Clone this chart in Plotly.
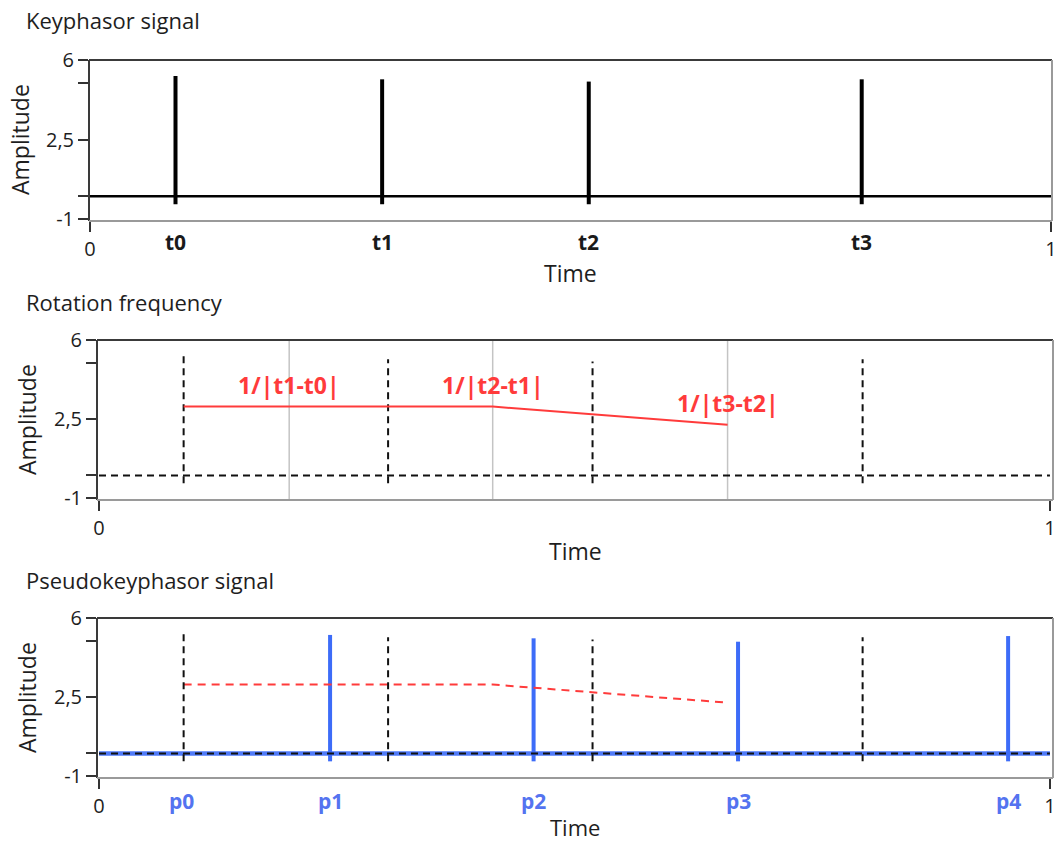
import plotly.graph_objects as go

# Keyphasor pulses (time in normalised units, amplitude)
key_times = [0.089, 0.304, 0.519, 0.803]
key_peaks = [5.3, 5.15, 5.05, 5.15]
key_trough = -0.35
key_labels = ["t0", "t1", "t2", "t3"]

# Rotation frequency estimates placed between consecutive pulses
freq_times = [0.200, 0.414, 0.661]
freq_values = [3.05, 3.05, 2.25]
freq_labels = ["1/|t1-t0|", "1/|t2-t1|", "1/|t3-t2|"]

# Pseudo keyphasor pulses
pseudo_times = [0.087, 0.243, 0.457, 0.672, 0.956]
pseudo_labels = ["p0", "p1", "p2", "p3", "p4"]
pseudo_spike_times = [0.243, 0.457, 0.672, 0.956]
pseudo_peaks = [5.25, 5.1, 4.95, 5.2]

y_tickvals = [-1, 0, 2.5, 5, 6]
y_ticktext = ["-1", "", "2,5", "", "6"]
x_tickvals = [0, 1]
x_ticktext = ["0", "1"]

W, H = 1058, 843
FONT = "Open Sans"
TXT = "#1e1e1e"
RED = "#ff3b3b"
BLUE = "#3d6cf8"
LBLUE = "#5473f0"


def px(x):
    return x / W


def py(y):
    return 1 - y / H


def baseline():
    return [0.0, 1.0], [0.0, 0.0]


def pulses(times, peaks, trough):
    """Vertical pulse segments, kept separate so dash patterns stay clean."""
    xs, ys = [], []
    for t, p in zip(times, peaks):
        xs += [t, t, None]
        ys += [trough, p, None]
    return xs, ys


fig = go.Figure()

bx, by = baseline()
kx, ky = pulses(key_times, key_peaks, key_trough)
sx, sy = pulses(pseudo_spike_times, pseudo_peaks, key_trough)
fx = [key_times[0]] + freq_times
fy = [freq_values[0]] + freq_values

BLACK_DASH = dict(color="#111111", width=2, dash="7px,5px")

# Panel 1: keyphasor signal
fig.add_trace(go.Scatter(x=bx, y=by, mode="lines", xaxis="x", yaxis="y",
                         line=dict(color="#000000", width=2.5), showlegend=False))
fig.add_trace(go.Scatter(x=kx, y=ky, mode="lines", xaxis="x", yaxis="y",
                         line=dict(color="#000000", width=4), showlegend=False))

# Panel 2: keyphasor (dashed) + rotation frequency
fig.add_trace(go.Scatter(x=bx, y=by, mode="lines", xaxis="x2", yaxis="y2",
                         line=BLACK_DASH, showlegend=False))
fig.add_trace(go.Scatter(x=kx, y=ky, mode="lines", xaxis="x2", yaxis="y2",
                         line=BLACK_DASH, showlegend=False))
fig.add_trace(go.Scatter(x=fx, y=fy, mode="lines", xaxis="x2", yaxis="y2",
                         line=dict(color=RED, width=2), showlegend=False))

# Panel 3: pseudo keyphasor + overlays
fig.add_trace(go.Scatter(x=bx, y=by, mode="lines", xaxis="x3", yaxis="y3",
                         line=dict(color=BLUE, width=4.5), opacity=0.9,
                         showlegend=False))
fig.add_trace(go.Scatter(x=sx, y=sy, mode="lines", xaxis="x3", yaxis="y3",
                         line=dict(color=BLUE, width=4), showlegend=False))
fig.add_trace(go.Scatter(x=fx, y=fy, mode="lines", xaxis="x3", yaxis="y3",
                         line=dict(color=RED, width=2, dash="8px,6px"),
                         showlegend=False))
fig.add_trace(go.Scatter(x=bx, y=by, mode="lines", xaxis="x3", yaxis="y3",
                         line=BLACK_DASH, showlegend=False))
fig.add_trace(go.Scatter(x=kx, y=ky, mode="lines", xaxis="x3", yaxis="y3",
                         line=BLACK_DASH, showlegend=False))

panels = [
    # (x pixel left, right, y pixel top, bottom, x range)
    (89, 1052, 60, 221, [-0.001, 1.001]),
    (97, 1053, 340, 500, [-0.0021, 1.0032]),
    (97, 1053, 618, 778, [-0.0021, 1.0032]),
]

yrange = [-1.088, 6.0]
axis_font = dict(family=FONT, size=20, color=TXT)
layout = dict(
    width=W, height=H,
    margin=dict(l=0, r=0, t=0, b=0, autoexpand=False),
    paper_bgcolor="white", plot_bgcolor="white",
    font=dict(family=FONT, color=TXT),
)
shapes = []
for i, (xl, xr, yt, yb, xr_range) in enumerate(panels, start=1):
    sfx = "" if i == 1 else str(i)
    layout["xaxis" + sfx] = dict(
        domain=[px(xl), px(xr)], range=xr_range, anchor="y" + sfx,
        tickvals=x_tickvals, ticktext=x_ticktext, ticks="outside",
        ticklen=10, tickwidth=1.5, tickcolor="#333333", tickfont=axis_font,
        showgrid=False, zeroline=False, showline=False, automargin=False,
    )
    layout["yaxis" + sfx] = dict(
        domain=[py(yb), py(yt)], range=yrange, anchor="x" + sfx,
        tickvals=y_tickvals, ticktext=y_ticktext, ticks="outside",
        ticklen=10, tickwidth=1.5, tickcolor="#333333", tickfont=axis_font,
        showgrid=False, zeroline=False, showline=False, automargin=False,
    )
    xd, yd = "x" + sfx + " domain", "y" + sfx + " domain"
    # inset frame: dark top/left, light bottom/right
    shapes += [
        dict(type="line", xref=xd, yref=yd, x0=0, x1=1, y0=1, y1=1,
             line=dict(color="#3a3a3a", width=2), layer="above"),
        dict(type="line", xref=xd, yref=yd, x0=0, x1=0, y0=0, y1=1,
             line=dict(color="#3a3a3a", width=2), layer="above"),
        dict(type="line", xref=xd, yref=yd, x0=0, x1=1, y0=0, y1=0,
             line=dict(color="#9a9a9a", width=2), layer="above"),
        dict(type="line", xref=xd, yref=yd, x0=1, x1=1, y0=0, y1=1,
             line=dict(color="#9a9a9a", width=2), layer="above"),
    ]

# light cursors at the frequency estimate positions
for t in freq_times:
    shapes.append(dict(type="line", xref="x2", yref="y2 domain", x0=t, x1=t,
                       y0=0, y1=1, line=dict(color="#c4c4c4", width=1.5),
                       layer="below"))

layout["shapes"] = shapes

ann = []
titles = [("Keyphasor signal", 20), ("Rotation frequency", 302),
          ("Pseudokeyphasor signal", 580)]
for text, y in titles:
    ann.append(dict(text=text, x=px(24), y=py(y), xref="paper", yref="paper",
                    xanchor="left", yanchor="middle", showarrow=False,
                    font=dict(family=FONT, size=22, color=TXT)))

# "Amplitude" and "Time" axis titles
for xc, yc in [(20, 140), (27, 420), (27, 698)]:
    ann.append(dict(text="Amplitude", x=px(xc), y=py(yc), xref="paper",
                    yref="paper", textangle=-90, showarrow=False,
                    xanchor="center", yanchor="middle",
                    font=dict(family=FONT, size=23, color=TXT)))
for xc, yc, fs in [(570, 273, 23), (575, 551, 23), (575, 827, 22)]:
    ann.append(dict(text="Time", x=px(xc), y=py(yc), xref="paper",
                    yref="paper", showarrow=False, xanchor="center",
                    yanchor="middle", borderpad=0,
                    font=dict(family=FONT, size=fs, color=TXT)))

# pulse time labels under the top panel
for t, lab in zip(key_times, key_labels):
    ann.append(dict(text="<b>%s</b>" % lab, x=t, y=py(242), xref="x",
                    yref="paper", showarrow=False, xanchor="center",
                    yanchor="middle",
                    font=dict(family=FONT, size=21, color="#1a1a1a")))

# frequency labels
for t, v, lab in zip(freq_times, freq_values, freq_labels):
    ann.append(dict(text="<b>%s</b>" % lab, x=t, y=v, xref="x2", yref="y2",
                    showarrow=False, xanchor="center", yanchor="bottom",
                    yshift=4, font=dict(family=FONT, size=23, color=RED)))

# pseudo pulse labels
for t, lab in zip(pseudo_times, pseudo_labels):
    ann.append(dict(text="<b>%s</b>" % lab, x=t, y=py(801), xref="x3",
                    yref="paper", showarrow=False, xanchor="center",
                    yanchor="middle",
                    font=dict(family=FONT, size=21, color=LBLUE)))

layout["annotations"] = ann
fig.update_layout(**layout)
fig.write_html("out.html")
